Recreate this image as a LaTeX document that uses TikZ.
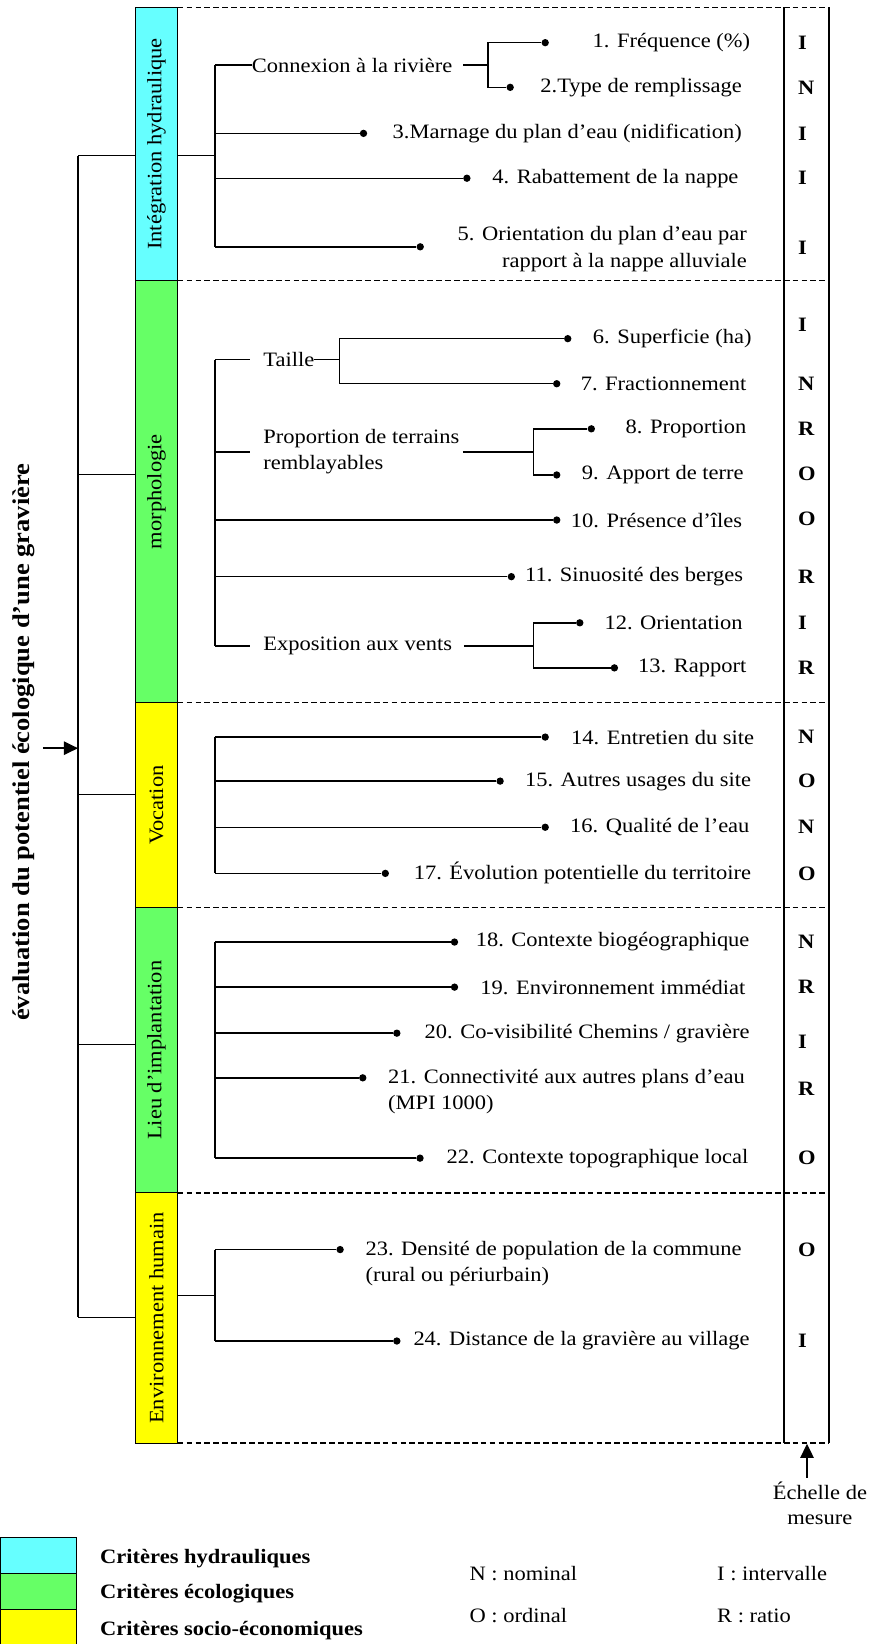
\documentclass[tikz,border=0pt]{standalone}
\usepackage{fontspec}
\setmainfont{Liberation Serif}[FakeStretch=1.1]
\usetikzlibrary{arrows.meta}
\definecolor{critHydro}{RGB}{102,255,255}
\definecolor{critEco}{RGB}{102,255,102}
\definecolor{critSocio}{RGB}{255,255,0}

\begin{document}
\begin{tikzpicture}[x=1pt, y=-1pt,
  bande/.style={draw, line width=0.8pt, rotate=90, minimum height=40.7,
                inner sep=0pt, font=\fontsize{19.5}{23}\selectfont},
  crit/.style={anchor=east, inner sep=0pt, font=\fontsize{19.5}{25}\selectfont},
  sous/.style={anchor=west, inner sep=0pt, align=left,
               font=\fontsize{19.5}{25}\selectfont},
  pt/.style={circle, fill, inner sep=0pt, minimum size=7},
  lien/.style={line width=1.4pt},
  sep/.style={line width=1.3pt, dash pattern=on 5.5pt off 3pt},
  colonne/.style={line width=1.7pt},
  echl/.style={anchor=west, inner sep=0pt, font=\bfseries\fontsize{19.5}{23}\selectfont},
  titre/.style={font=\bfseries\fontsize{23}{27}\selectfont, inner sep=0pt},
  leg/.style={draw, line width=0.8pt, minimum width=73, minimum height=34.6,
              inner sep=0pt},
  legtxt/.style={anchor=west, inner sep=0pt, font=\fontsize{19.5}{25}\selectfont},
  fleche/.style={-{Triangle[length=13.4pt,width=12.7pt]}, line width=1.4pt}
]
\useasboundingbox (0,0) rectangle (832,1568);

\node[bande, fill=critHydro, minimum width=260.8] (hyd)   at (149.2,137.4) {Intégration hydraulique};
\node[bande, fill=critEco,   minimum width=402.2] (morph) at (149.2,468.9) {morphologie};
\node[bande, fill=critSocio, minimum width=195.7] (voc)   at (149.2,767.9) {Vocation};
\node[bande, fill=critEco,   minimum width=272]   (lieu)  at (149.2,1001.7) {Lieu d’implantation};
\node[bande, fill=critSocio, minimum width=238.6] (env)   at (149.2,1257) {Environnement humain};

\foreach \y in {7,267.8,670,865.7,1137.7,1376.3}
  \draw[sep] (169.5,\y) -- (791,\y);
\draw[colonne] (748,7) -- (748,1376.3);
\draw[colonne] (790.5,7) -- (790.5,1376.3);

\node[titre, rotate=90] (titre) at (23,708) {évaluation du potentiel écologique d’une gravière};
\coordinate (fl) at (41,713.6);
\coordinate (tH) at (74.4,148.5);
\coordinate (tM) at (74.4,452.5);
\coordinate (tV) at (74.4,757.6);
\coordinate (tL) at (74.4,996);
\coordinate (tE) at (74.4,1256.4);
\draw[lien] (tH) -- (tE);
\foreach \c/\b in {tH/hyd, tM/morph, tV/voc, tL/lieu, tE/env}
  \draw[lien] (\c) -- (\c -| \b.north);
\draw[fleche] (fl) -- (fl -| tH);

\foreach \n/\y/\d/\r/\t in {
  1/40.7/520/715.6/{1. Fréquence (\%)},
  2/83.3/486.6/707.7/{2.Type de remplissage},
  3/127.2/346.7/707.7/{3.Marnage du plan d’eau (nidification)},
  4/170/445.3/704.5/{4. Rabattement de la nappe},
  6/323/541.5/717/{6. Superficie (ha)},
  7/366/531/712/{7. Fractionnement},
  8/409/564/712/{8. Proportion},
  9/453/531/709.5/{9. Apport de terre},
  10/496/531/708/{10. Présence d’îles},
  11/550/487.7/709/{11. Sinuosité des berges},
  12/594/553/708.5/{12. Orientation},
  13/637/586/712/{13. Rapport},
  14/703/520/719.5/{14. Entretien du site},
  15/745/477/716.6/{15. Autres usages du site},
  16/789/520/715/{16. Qualité de l’eau},
  17/833/367.5/716.6/{17. Évolution potentielle du territoire},
  18/898.5/433.5/715/{18. Contexte biogéographique},
  19/941.5/433.5/711/{19. Environnement immédiat},
  20/985.4/378.5/715/{20. Co-visibilité Chemins / gravière},
  22/1104.6/400.6/714/{22. Contexte topographique local},
  24/1279/378.5/715/{24. Distance de la gravière au village}}
{
  \node[pt] (p\n) at (\d,\y) {};
  \node[crit] (c\n) at (\r,\y) {\t};
}
\node[pt] (p5) at (400.8,235.4) {};
\node[crit, align=right] (c5) at (712.5,237.5) {5. Orientation du plan d’eau par\\rapport à la nappe alluviale};
\node[pt] (p21) at (346,1028) {};
\node[sous] (c21) at (370,1041) {21. Connectivité aux autres plans d’eau\\(MPI 1000)};
\node[pt] (p23) at (324.4,1191.8) {};
\node[sous] (c23) at (348.5,1205) {23. Densité de population de la commune\\(rural ou périurbain)};

\foreach \y/\l [count=\i] in {40.7/I, 83.3/N, 127.2/I, 170/I, 236/I,
    310/I, 366/N, 409/R, 452/O, 495/O, 550/R, 594/I, 637/R,
    703/N, 745/O, 789/N, 833/O,
    898.5/N, 941.5/R, 994/I, 1038/R, 1104.6/O,
    1191.8/O, 1279/I}
  \node[echl] (e\i) at (761,\y) {\l};

\coordinate (hJ) at (205,148.5);
\coordinate (hT) at (205,62);
\coordinate (hB) at (205,235.4);
\draw[lien] (hyd.south |- hJ) -- (hJ);
\draw[lien] (hT) -- (hB);
\node[sous] (conn) at (240,62) {Connexion à la rivière};
\coordinate (cJ) at (465.3,62);
\draw[lien] (hT) -- (conn.west);
\draw[lien] ([xshift=10pt]conn.east) -- (cJ);
\draw[lien] (p1) -| (cJ) |- (p2);
\draw[lien] (p3 -| hT) -- (p3);
\draw[lien] (p4 -| hT) -- (p4);
\draw[lien] (hB) -- (p5);

\coordinate (mT) at (205,343);
\coordinate (mB) at (205,616);
\draw[lien] (mT) -- (mB);
\node[sous] (taille) at (251,343) {Taille};
\coordinate (tJ) at (324,343);
\draw[lien] (mT) -- ([xshift=-13pt]taille.west);
\draw[lien] (taille.east) -- (tJ);
\draw[lien] (p6) -| (tJ) |- (p7);
\node[sous] (prop) at (251,431) {Proportion de terrains\\remblayables};
\coordinate (pJ) at (509,431);
\draw[lien] (mT |- prop.west) -- ([xshift=-13pt]prop.west);
\draw[lien] ([xshift=3pt]prop.east) -- (pJ);
\draw[lien] (p8) -| (pJ) |- (p9);
\draw[lien] (p10 -| mT) -- (p10);
\draw[lien] (p11 -| mT) -- (p11);
\node[sous] (expo) at (251,616) {Exposition aux vents};
\coordinate (eJ) at (509,616);
\draw[lien] (mB) -- ([xshift=-13pt]expo.west);
\draw[lien] ([xshift=11pt]expo.east) -- (eJ);
\draw[lien] (p12) -| (eJ) |- (p13);

\coordinate (vT) at (205,703);
\coordinate (vB) at (205,833);
\draw[lien] (vT) -- (vB);
\foreach \n in {14,15,16,17}
  \draw[lien] (p\n -| vT) -- (p\n);

\coordinate (lT) at (205,898.5);
\coordinate (lB) at (205,1104.6);
\draw[lien] (lT) -- (lB);
\foreach \n in {18,19,20,21,22}
  \draw[lien] (p\n -| lT) -- (p\n);

\coordinate (nJ) at (205,1235.7);
\coordinate (nT) at (205,1191.8);
\coordinate (nB) at (205,1279);
\draw[lien] (env.south |- nJ) -- (nJ);
\draw[lien] (nT) -- (nB);
\draw[lien] (nT) -- (p23);
\draw[lien] (nB) -- (p24);

\node[align=center, font=\fontsize{19.5}{24}\selectfont] (ech) at (782,1433.5) {Échelle de\\mesure};
\coordinate (colB) at (769.7,1377);
\draw[fleche] (colB |- ech.north) -- (colB);

\node[leg, fill=critHydro] (lgH) at (36.5,1483.3) {};
\node[leg, fill=critEco]   (lgE) at (36.5,1517.9) {};
\node[leg, fill=critSocio] (lgS) at (36.5,1552.5) {};
\node[legtxt, font=\bfseries\fontsize{19.5}{25}\selectfont] (tH1) at (95.4,1487) {Critères hydrauliques};
\node[legtxt, font=\bfseries\fontsize{19.5}{25}\selectfont] (tE1) at (95.4,1520.4) {Critères écologiques};
\node[legtxt, font=\bfseries\fontsize{19.5}{25}\selectfont] (tS1) at (95.4,1555.3) {Critères socio-économiques};
\node[legtxt] (nomi) at (447.7,1500.6) {N : nominal};
\node[legtxt] (ordi) at (447.7,1541) {O : ordinal};
\node[legtxt] (inte) at (683.8,1500.6) {I : intervalle};
\node[legtxt] (rati) at (683.8,1541) {R : ratio};
\end{tikzpicture}
\end{document}
